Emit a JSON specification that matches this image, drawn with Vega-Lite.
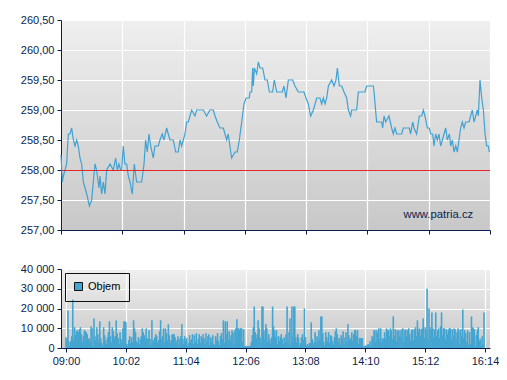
{
  "$schema": "https://vega.github.io/schema/vega-lite/v6.json",
  "padding": {"left": 20, "top": 14, "right": 0, "bottom": 0},
  "background": "white",
  "spacing": 28,
  "datasets": {
    "price": [
      {"min":0,"price":258.25},{"min":1.4,"price":257.8},{"min":2.4,"price":257.9},{"min":4.1,"price":258.0},{"min":5.7,"price":258.1},{"min":7.4,"price":258.6},{"min":9.1,"price":258.6},{"min":10.8,"price":258.7},{"min":12.5,"price":258.5},{"min":14.2,"price":258.4},{"min":15.9,"price":258.5},{"min":17.5,"price":258.4},{"min":19.2,"price":258.2},{"min":20.9,"price":258.1},{"min":22.6,"price":257.8},{"min":24.3,"price":257.7},{"min":26,"price":257.6},{"min":28.7,"price":257.4},{"min":31,"price":257.5},{"min":34.4,"price":258.1},{"min":36,"price":258.0},{"min":38.4,"price":257.7},{"min":39.5,"price":257.9},{"min":41.1,"price":257.6},{"min":42.8,"price":257.8},{"min":44.5,"price":257.6},{"min":46.2,"price":258.0},{"min":49.6,"price":258.1},{"min":52.9,"price":258.0},{"min":55.3,"price":258.2},{"min":56.9,"price":258.0},{"min":58.6,"price":258.1},{"min":60.3,"price":258.0},{"min":61.4,"price":258.0},{"min":63,"price":258.4},{"min":64.7,"price":258.1},{"min":66.4,"price":258.1},{"min":68.1,"price":257.9},{"min":69.8,"price":257.8},{"min":72.1,"price":257.6},{"min":74.2,"price":258.1},{"min":76.5,"price":257.8},{"min":81.6,"price":257.8},{"min":84,"price":258.1},{"min":85.6,"price":258.5},{"min":87.3,"price":258.3},{"min":89,"price":258.6},{"min":90.7,"price":258.4},{"min":93.4,"price":258.2},{"min":95,"price":258.4},{"min":98.4,"price":258.4},{"min":100.1,"price":258.5},{"min":102.4,"price":258.6},{"min":104.1,"price":258.5},{"min":106.9,"price":258.7},{"min":108.5,"price":258.6},{"min":110.2,"price":258.5},{"min":113.6,"price":258.5},{"min":116,"price":258.3},{"min":118.6,"price":258.3},{"min":120.4,"price":258.5},{"min":122,"price":258.4},{"min":123.8,"price":258.5},{"min":125.4,"price":258.6},{"min":127.1,"price":258.8},{"min":128.8,"price":258.8},{"min":130.5,"price":258.9},{"min":132.2,"price":259.0},{"min":135.5,"price":258.9},{"min":137.2,"price":259.0},{"min":140.6,"price":259.0},{"min":144,"price":259.0},{"min":147.3,"price":258.9},{"min":150.7,"price":259.0},{"min":154.1,"price":259.0},{"min":155.8,"price":258.9},{"min":158.1,"price":258.8},{"min":160.8,"price":258.7},{"min":164.2,"price":258.7},{"min":165.9,"price":258.6},{"min":167.6,"price":258.5},{"min":169.2,"price":258.6},{"min":170.9,"price":258.4},{"min":172.6,"price":258.2},{"min":176,"price":258.3},{"min":178.3,"price":258.3},{"min":180.4,"price":258.5},
      {"min":182.8,"price":258.8},{"min":185.1,"price":259.1},{"min":187.2,"price":259.2},{"min":190.5,"price":259.2},{"min":191.2,"price":259.3},{"min":192.9,"price":259.3},{"min":193.9,"price":259.7},{"min":194.6,"price":259.4},{"min":195.6,"price":259.7},{"min":198,"price":259.6},{"min":199.6,"price":259.8},{"min":201.3,"price":259.7},{"min":204,"price":259.7},{"min":206.4,"price":259.5},{"min":208.7,"price":259.5},{"min":210.8,"price":259.3},{"min":214.1,"price":259.3},{"min":215.8,"price":259.5},{"min":218.2,"price":259.3},{"min":222.2,"price":259.3},{"min":223.9,"price":259.3},{"min":225.6,"price":259.4},{"min":227.6,"price":259.2},{"min":230,"price":259.5},{"min":234.4,"price":259.5},{"min":236.7,"price":259.4},{"min":240.1,"price":259.3},{"min":245.8,"price":259.3},{"min":247.9,"price":259.2},{"min":250.2,"price":259.1},{"min":252.6,"price":258.9},{"min":255.3,"price":259.0},{"min":258.7,"price":259.2},{"min":262,"price":259.2},{"min":263.7,"price":259.1},{"min":265.4,"price":259.2},{"min":267.1,"price":259.1},{"min":268.8,"price":259.2},{"min":270.5,"price":259.4},{"min":273.8,"price":259.5},{"min":276.2,"price":259.4},{"min":278.2,"price":259.5},{"min":279.6,"price":259.7},{"min":281.6,"price":259.4},{"min":284,"price":259.4},{"min":286.3,"price":259.3},{"min":289,"price":259.2},{"min":290.7,"price":259.0},{"min":293,"price":258.9},{"min":294.1,"price":259.0},{"min":299.1,"price":259.0},{"min":300.8,"price":259.3},{"min":307.5,"price":259.3},{"min":309.2,"price":259.4},{"min":316,"price":259.4},{"min":316.7,"price":259.3},{"min":319.3,"price":258.8},{"min":324.4,"price":258.8},{"min":325.4,"price":258.7},{"min":326.8,"price":258.9},{"min":328.5,"price":258.8},{"min":331.8,"price":258.9},{"min":334.5,"price":258.7},{"min":336.2,"price":258.6},{"min":337.9,"price":258.7},{"min":339.6,"price":258.6},{"min":344.6,"price":258.6},{"min":346.3,"price":258.7},{"min":352.4,"price":258.7},{"min":353.7,"price":258.6},{"min":355.8,"price":258.8},{"min":357.1,"price":258.7},{"min":359.8,"price":258.6},{"min":362.5,"price":258.9},{"min":364.9,"price":258.9},{"min":366.6,"price":259.0},{"min":368.2,"price":258.9},{"min":370.6,"price":258.7},{"min":372.6,"price":258.7},{"min":374,"price":258.6},{"min":376,"price":258.6},{"min":377.4,"price":258.4},{"min":379,"price":258.6},{"min":380.7,"price":258.5},{"min":382.4,"price":258.6},{"min":384.1,"price":258.4},{"min":385.8,"price":258.5},{"min":387.5,"price":258.6},{"min":389.2,"price":258.7},{"min":390.8,"price":258.5},{"min":392.9,"price":258.6},{"min":394.2,"price":258.4},{"min":395.9,"price":258.5},{"min":397.6,"price":258.3},{"min":399.3,"price":258.4},{"min":401,"price":258.3},{"min":402.6,"price":258.5},{"min":404.3,"price":258.7},{"min":406,"price":258.8},{"min":407.7,"price":258.7},{"min":409.4,"price":258.8},{"min":412.8,"price":258.8},{"min":414.4,"price":258.9},{"min":416.1,"price":259.0},{"min":417.8,"price":258.8},{"min":419.5,"price":258.9},{"min":421.2,"price":259.0},{"min":422.2,"price":258.9},{"min":423.9,"price":259.5},{"min":425.6,"price":259.2},{"min":427.3,"price":259.0},{"min":429,"price":258.6},{"min":430.6,"price":258.4},{"min":432.3,"price":258.4},{"min":433.3,"price":258.3}
    ],
    "volume": [
      {"min":0,"vol":5500},{"min":1,"vol":4500},{"min":2,"vol":19000},{"min":3,"vol":3000},{"min":4,"vol":1000},{"min":5,"vol":3500},{"min":6,"vol":6000},{"min":7,"vol":24500},{"min":8,"vol":4000},{"min":9,"vol":10500},
      {"min":10,"vol":6500},{"min":11,"vol":8500},{"min":12,"vol":9000},{"min":13,"vol":8000},{"min":14,"vol":9500},{"min":15,"vol":10500},{"min":16,"vol":7000},{"min":17,"vol":3000},{"min":18,"vol":6000},{"min":19,"vol":9000},
      {"min":20,"vol":8500},{"min":21,"vol":8000},{"min":22,"vol":7000},{"min":23,"vol":4500},{"min":24,"vol":5000},{"min":25,"vol":3500},{"min":26,"vol":11000},{"min":27,"vol":10000},{"min":28,"vol":1000},{"min":29,"vol":15000},
      {"min":30,"vol":6000},{"min":31,"vol":4000},{"min":32,"vol":10500},{"min":33,"vol":7000},{"min":34,"vol":3000},{"min":35,"vol":13500},{"min":36,"vol":5000},{"min":37,"vol":2500},{"min":38,"vol":1000},{"min":39,"vol":10500},
      {"min":40,"vol":6500},{"min":41,"vol":4000},{"min":42,"vol":2000},{"min":43,"vol":5500},{"min":44,"vol":8000},{"min":45,"vol":13500},{"min":46,"vol":6000},{"min":47,"vol":3000},{"min":48,"vol":10500},{"min":49,"vol":8500},
      {"min":50,"vol":5000},{"min":51,"vol":6000},{"min":52,"vol":14000},{"min":53,"vol":7500},{"min":54,"vol":5000},{"min":55,"vol":2000},{"min":56,"vol":8000},{"min":57,"vol":4500},{"min":58,"vol":3000},{"min":59,"vol":10000},
      {"min":60,"vol":13500},{"min":61,"vol":13500},{"min":62,"vol":13000},{"min":63,"vol":2000},{"min":64,"vol":1000},{"min":65,"vol":4000},{"min":66,"vol":6000},{"min":67,"vol":2500},{"min":68,"vol":5500},{"min":69,"vol":3000},
      {"min":70,"vol":14000},{"min":71,"vol":10000},{"min":72,"vol":8000},{"min":73,"vol":3500},{"min":74,"vol":2500},{"min":75,"vol":5500},{"min":76,"vol":2000},{"min":77,"vol":4500},{"min":78,"vol":6000},{"min":79,"vol":10000},
      {"min":80,"vol":8000},{"min":81,"vol":6500},{"min":82,"vol":4500},{"min":83,"vol":10000},{"min":84,"vol":5000},{"min":85,"vol":4500},{"min":86,"vol":9000},{"min":87,"vol":4500},{"min":88,"vol":1500},{"min":89,"vol":14000},
      {"min":90,"vol":4000},{"min":91,"vol":3000},{"min":92,"vol":5500},{"min":93,"vol":7000},{"min":94,"vol":6000},{"min":95,"vol":2500},{"min":96,"vol":4000},{"min":97,"vol":8500},{"min":98,"vol":14000},{"min":99,"vol":4500},
      {"min":100,"vol":6000},{"min":101,"vol":10000},{"min":102,"vol":3000},{"min":103,"vol":10000},{"min":104,"vol":7500},{"min":105,"vol":4000},{"min":106,"vol":12000},{"min":107,"vol":6500},{"min":108,"vol":2500},{"min":109,"vol":4000},
      {"min":110,"vol":7000},{"min":111,"vol":7000},{"min":112,"vol":7000},{"min":113,"vol":5500},{"min":114,"vol":2500},{"min":115,"vol":4000},{"min":116,"vol":6000},{"min":117,"vol":1500},{"min":118,"vol":4500},{"min":119,"vol":6000},
      {"min":120,"vol":12000},{"min":121,"vol":4500},{"min":122,"vol":2000},{"min":123,"vol":6000},{"min":124,"vol":3500},{"min":125,"vol":5000},{"min":126,"vol":1000},{"min":127,"vol":2500},{"min":128,"vol":6500},{"min":129,"vol":3500},
      {"min":130,"vol":4500},{"min":131,"vol":7000},{"min":132,"vol":2000},{"min":133,"vol":6500},{"min":134,"vol":3000},{"min":135,"vol":7500},{"min":136,"vol":2000},{"min":137,"vol":4500},{"min":138,"vol":7000},{"min":139,"vol":2500},
      {"min":140,"vol":6000},{"min":141,"vol":4500},{"min":142,"vol":7000},{"min":143,"vol":5000},{"min":144,"vol":2000},{"min":145,"vol":7500},{"min":146,"vol":3500},{"min":147,"vol":6000},{"min":148,"vol":7000},{"min":149,"vol":1500},
      {"min":150,"vol":5500},{"min":151,"vol":3000},{"min":152,"vol":6500},{"min":153,"vol":2000},{"min":154,"vol":1500},{"min":155,"vol":6000},{"min":156,"vol":4000},{"min":157,"vol":7500},{"min":158,"vol":3500},{"min":159,"vol":1500},
      {"min":160,"vol":6000},{"min":161,"vol":7500},{"min":162,"vol":4500},{"min":163,"vol":14000},{"min":164,"vol":2500},{"min":165,"vol":13500},{"min":166,"vol":7000},{"min":167,"vol":13500},{"min":168,"vol":4000},{"min":169,"vol":8500},
      {"min":170,"vol":3500},{"min":171,"vol":6500},{"min":172,"vol":9000},{"min":173,"vol":8000},{"min":174,"vol":2000},{"min":175,"vol":9000},{"min":176,"vol":10000},{"min":177,"vol":14500},{"min":178,"vol":10000},{"min":179,"vol":10000},
      {"min":180,"vol":9000},{"min":181,"vol":10000},{"min":182,"vol":10000},{"min":183,"vol":3000},{"min":184,"vol":9500},{"min":185,"vol":1000},{"min":186,"vol":1000},{"min":187,"vol":800},{"min":188,"vol":1000},{"min":189,"vol":800},
      {"min":190,"vol":1000},{"min":191,"vol":1200},{"min":192,"vol":3000},{"min":193,"vol":6500},{"min":194,"vol":10500},{"min":195,"vol":21000},{"min":196,"vol":8000},{"min":197,"vol":5000},{"min":198,"vol":7000},{"min":199,"vol":14000},
      {"min":200,"vol":10000},{"min":201,"vol":5500},{"min":202,"vol":3000},{"min":203,"vol":21000},{"min":204,"vol":21000},{"min":205,"vol":9000},{"min":206,"vol":4500},{"min":207,"vol":12000},{"min":208,"vol":10000},{"min":209,"vol":3000},
      {"min":210,"vol":7000},{"min":211,"vol":4500},{"min":212,"vol":2500},{"min":213,"vol":5500},{"min":214,"vol":21000},{"min":215,"vol":11000},{"min":216,"vol":9000},{"min":217,"vol":5500},{"min":218,"vol":9000},{"min":219,"vol":2000},
      {"min":220,"vol":6000},{"min":221,"vol":3500},{"min":222,"vol":5500},{"min":223,"vol":7000},{"min":224,"vol":4500},{"min":225,"vol":2000},{"min":226,"vol":5500},{"min":227,"vol":3000},{"min":228,"vol":7000},{"min":229,"vol":21000},
      {"min":230,"vol":2500},{"min":231,"vol":8000},{"min":232,"vol":15000},{"min":233,"vol":1500},{"min":234,"vol":21000},{"min":235,"vol":6000},{"min":236,"vol":21000},{"min":237,"vol":21000},{"min":238,"vol":5500},{"min":239,"vol":3000},
      {"min":240,"vol":7000},{"min":241,"vol":5000},{"min":242,"vol":1000},{"min":243,"vol":2500},{"min":244,"vol":5500},{"min":245,"vol":7000},{"min":246,"vol":4000},{"min":247,"vol":20000},{"min":248,"vol":5500},{"min":249,"vol":1000},
      {"min":250,"vol":2000},{"min":251,"vol":1000},{"min":252,"vol":2500},{"min":253,"vol":2500},{"min":254,"vol":13000},{"min":255,"vol":4500},{"min":256,"vol":1500},{"min":257,"vol":3000},{"min":258,"vol":8000},{"min":259,"vol":2500},
      {"min":260,"vol":6000},{"min":261,"vol":3500},{"min":262,"vol":9000},{"min":263,"vol":4000},{"min":264,"vol":16000},{"min":265,"vol":16000},{"min":266,"vol":7500},{"min":267,"vol":3000},{"min":268,"vol":1000},{"min":269,"vol":8000},
      {"min":270,"vol":5500},{"min":271,"vol":3500},{"min":272,"vol":8000},{"min":273,"vol":2500},{"min":274,"vol":6500},{"min":275,"vol":6000},{"min":276,"vol":3500},{"min":277,"vol":1500},{"min":278,"vol":5500},{"min":279,"vol":8500},
      {"min":280,"vol":10000},{"min":281,"vol":7000},{"min":282,"vol":3000},{"min":283,"vol":5000},{"min":284,"vol":1500},{"min":285,"vol":6500},{"min":286,"vol":4500},{"min":287,"vol":8500},{"min":288,"vol":2000},{"min":289,"vol":5500},
      {"min":290,"vol":8000},{"min":291,"vol":3000},{"min":292,"vol":12000},{"min":293,"vol":6500},{"min":294,"vol":4000},{"min":295,"vol":5000},{"min":296,"vol":8000},{"min":297,"vol":3500},{"min":298,"vol":7000},{"min":299,"vol":9000},
      {"min":300,"vol":9000},{"min":301,"vol":6000},{"min":302,"vol":9000},{"min":303,"vol":2000},{"min":304,"vol":5000},{"min":305,"vol":5000},{"min":306,"vol":5000},{"min":307,"vol":5000},{"min":308,"vol":800},{"min":309,"vol":1000},
      {"min":310,"vol":1200},{"min":311,"vol":1000},{"min":312,"vol":1500},{"min":313,"vol":2000},{"min":314,"vol":1000},{"min":315,"vol":3500},{"min":316,"vol":1500},{"min":317,"vol":6000},{"min":318,"vol":4500},{"min":319,"vol":9000},
      {"min":320,"vol":9000},{"min":321,"vol":3000},{"min":322,"vol":9000},{"min":323,"vol":7500},{"min":324,"vol":10000},{"min":325,"vol":4500},{"min":326,"vol":10000},{"min":327,"vol":3000},{"min":328,"vol":5000},{"min":329,"vol":4500},
      {"min":330,"vol":8000},{"min":331,"vol":4500},{"min":332,"vol":10000},{"min":333,"vol":9000},{"min":334,"vol":9000},{"min":335,"vol":6000},{"min":336,"vol":10000},{"min":337,"vol":9000},{"min":338,"vol":4500},{"min":339,"vol":16000},
      {"min":340,"vol":6000},{"min":341,"vol":9500},{"min":342,"vol":3500},{"min":343,"vol":9000},{"min":344,"vol":9000},{"min":345,"vol":6000},{"min":346,"vol":9000},{"min":347,"vol":5500},{"min":348,"vol":9500},{"min":349,"vol":10000},
      {"min":350,"vol":3000},{"min":351,"vol":9000},{"min":352,"vol":9500},{"min":353,"vol":6000},{"min":354,"vol":9000},{"min":355,"vol":10000},{"min":356,"vol":7000},{"min":357,"vol":3500},{"min":358,"vol":9000},{"min":359,"vol":9500},
      {"min":360,"vol":4000},{"min":361,"vol":9500},{"min":362,"vol":10500},{"min":363,"vol":6000},{"min":364,"vol":14000},{"min":365,"vol":9000},{"min":366,"vol":10000},{"min":367,"vol":6000},{"min":368,"vol":9500},{"min":369,"vol":10000},
      {"min":370,"vol":15000},{"min":371,"vol":5000},{"min":372,"vol":10500},{"min":373,"vol":9000},{"min":374,"vol":30000},{"min":375,"vol":4000},{"min":376,"vol":20000},{"min":377,"vol":10500},{"min":378,"vol":9000},{"min":379,"vol":18000},
      {"min":380,"vol":10000},{"min":381,"vol":5500},{"min":382,"vol":9500},{"min":383,"vol":18000},{"min":384,"vol":6000},{"min":385,"vol":9000},{"min":386,"vol":10000},{"min":387,"vol":5000},{"min":388,"vol":11000},{"min":389,"vol":18000},
      {"min":390,"vol":6500},{"min":391,"vol":10000},{"min":392,"vol":10000},{"min":393,"vol":4500},{"min":394,"vol":9500},{"min":395,"vol":7000},{"min":396,"vol":9000},{"min":397,"vol":10000},{"min":398,"vol":10000},{"min":399,"vol":4000},
      {"min":400,"vol":9500},{"min":401,"vol":6000},{"min":402,"vol":10000},{"min":403,"vol":9500},{"min":404,"vol":4500},{"min":405,"vol":8000},{"min":406,"vol":10000},{"min":407,"vol":9000},{"min":408,"vol":2000},{"min":409,"vol":9500},
      {"min":410,"vol":6000},{"min":411,"vol":19500},{"min":412,"vol":5000},{"min":413,"vol":9000},{"min":414,"vol":7500},{"min":415,"vol":3000},{"min":416,"vol":9000},{"min":417,"vol":1500},{"min":418,"vol":8000},{"min":419,"vol":2000},
      {"min":420,"vol":16000},{"min":421,"vol":10500},{"min":422,"vol":10000},{"min":423,"vol":9500},{"min":424,"vol":1000},{"min":425,"vol":6500},{"min":426,"vol":9000},{"min":427,"vol":10500},{"min":428,"vol":3500},{"min":429,"vol":4500},
      {"min":430,"vol":1500},{"min":431,"vol":6000},{"min":432,"vol":2000},{"min":433,"vol":18000}
    ]
  },
  "vconcat": [
    {
      "width": 429,
      "height": 210,
      "layer": [
        {
          "data": {"name": "price"},
          "mark": {"type": "line", "color": "#3fa2d2", "strokeWidth": 1.2},
          "encoding": {
            "x": {"field": "min", "type": "quantitative",
                  "scale": {"domain": [0, 434], "nice": false, "zero": false},
                  "axis": {"title": null, "labels": false, "values": [0, 62, 124, 186, 248, 310, 372, 434]}},
            "y": {"field": "price", "type": "quantitative",
                  "scale": {"domain": [257, 260.5], "nice": false, "zero": false},
                  "axis": {"title": null, "values": [257, 257.5, 258, 258.5, 259, 259.5, 260, 260.5],
                           "labelOverlap": false,
                           "labelExpr": "replace(format(datum.value, '.2f'), '.', ',')"}}
          }
        },
        {
          "data": {"values": [{"ref": 258}]},
          "mark": {"type": "rule", "color": "#e32626", "strokeWidth": 1, "yOffset": 0.5},
          "encoding": {
            "y": {"field": "ref", "type": "quantitative",
                  "axis": {"title": null, "values": [257, 257.5, 258, 258.5, 259, 259.5, 260, 260.5],
                           "labelOverlap": false,
                           "labelExpr": "replace(format(datum.value, '.2f'), '.', ',')"}}
          }
        },
        {
          "data": {"values": [{"label": "www.patria.cz"}]},
          "mark": {"type": "text", "align": "right", "baseline": "alphabetic", "font": "Liberation Sans", "fontSize": 11.3, "color": "#0a1e50"},
          "encoding": {
            "x": {"datum": 417, "type": "quantitative",
                  "axis": {"title": null, "labels": false, "values": [0, 62, 124, 186, 248, 310, 372, 434]}},
            "y": {"datum": 257.2, "type": "quantitative",
                  "axis": {"title": null, "values": [257, 257.5, 258, 258.5, 259, 259.5, 260, 260.5],
                           "labelOverlap": false,
                           "labelExpr": "replace(format(datum.value, '.2f'), '.', ',')"}},
            "text": {"field": "label", "type": "nominal"}
          }
        }
      ]
    },
    {
      "width": 429,
      "height": 79,
      "data": {"name": "volume"},
      "mark": {"type": "bar", "orient": "vertical", "width": 1.6},
      "encoding": {
        "x": {"field": "min", "type": "quantitative",
              "scale": {"domain": [0, 434], "nice": false, "zero": false},
              "axis": {"title": null, "values": [0, 62, 124, 186, 248, 310, 372, 434],
                       "labelExpr": "timeFormat(datetime(2000, 0, 1, 9, datum.value, 0), '%H:%M')"}},
        "y": {"field": "vol", "type": "quantitative",
              "scale": {"domain": [0, 40000], "nice": false},
              "axis": {"title": null, "values": [0, 10000, 20000, 30000, 40000], "labelOverlap": false,
                       "labelExpr": "replace(format(datum.value, ','), ',', ' ')"}},
        "color": {"datum": "Objem", "type": "nominal",
                  "scale": {"range": ["#44a5d1"]},
                  "legend": {"title": null, "orient": "none", "legendX": 4, "legendY": 253,
                             "strokeColor": "#111111", "padding": 8, "symbolType": "square",
                             "symbolSize": 64, "symbolStrokeColor": "#111111", "symbolStrokeWidth": 1,
                             "labelFont": "Liberation Sans", "labelFontSize": 11, "labelColor": "#000000",
                             "labelOffset": 4}}
      }
    }
  ],
  "config": {
    "view": {
      "stroke": null,
      "fill": {"gradient": "linear", "x1": 0, "y1": 0, "x2": 0, "y2": 1,
               "stops": [{"offset": 0, "color": "#efefef"}, {"offset": 1, "color": "#c8c8c8"}]}
    },
    "axis": {
      "domainColor": "#0a1e50", "tickColor": "#0a1e50", "labelColor": "#0a1e50",
      "labelFont": "Liberation Sans", "labelFontSize": 11, "tickSize": 4, "labelPadding": 3,
      "grid": true, "gridColor": "#ffffff", "gridOpacity": 1, "gridWidth": 1.2
    }
  }
}
